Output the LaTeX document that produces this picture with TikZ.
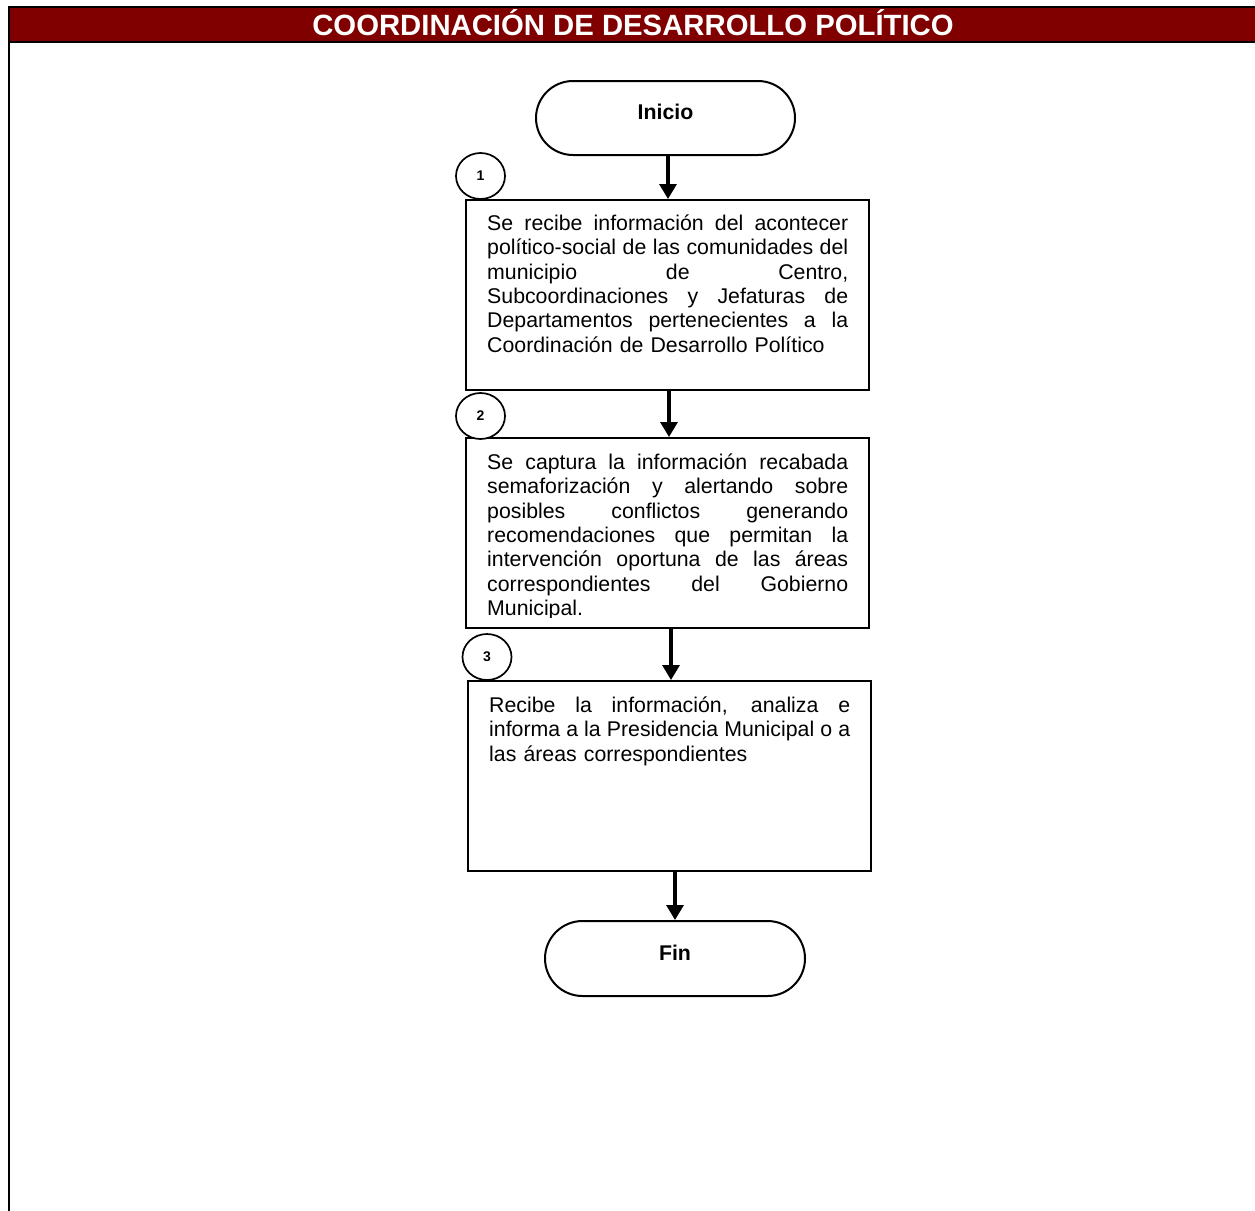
\documentclass[tikz,border=0pt]{standalone}
\usepackage{fontspec}
\setmainfont{Liberation Sans}
\usetikzlibrary{arrows.meta,shapes.geometric,shapes.misc}
\definecolor{banner}{RGB}{128,0,0}
% one justified line of a step text: the word spaces share the free width
\newcommand{\jline}[1]{\leavevmode\hbox to 361pt{\spaceskip=0.278em plus 1fil minus 0.1em\relax #1}}
\begin{document}
\begin{tikzpicture}[x=1pt,y=-1pt,
  stepbox/.style={draw,line width=2pt,minimum width=403pt,minimum height=190pt,inner sep=0pt},
  steptext/.style={anchor=north west,inner sep=0pt,text width=361pt,align=left,
    font=\fontsize{21.3}{24.4}\selectfont},
  terminal/.style={draw,line width=2pt,rounded rectangle,minimum width=259pt,
    minimum height=74pt,inner sep=0pt},
  termtext/.style={font=\fontsize{21.3}{24}\selectfont\bfseries,inner sep=0pt},
  stepnum/.style={draw,line width=1.7pt,ellipse,fill=white,minimum width=49pt,
    minimum height=46pt,inner sep=0pt,font=\fontsize{14}{15}\selectfont\bfseries},
  flow/.style={line width=3.3pt,-{Triangle[length=15pt,width=17pt]}}
]
\useasboundingbox (0,0) rectangle (1255,1210);
\fill[white] (0,0) rectangle (1255,1210);

% page frame and title banner
\draw[line width=2pt] (9,40) -- (9,1215);
\draw[line width=2pt,fill=banner] (9,7) rectangle (1260,41.7);
\node[text=white,font=\fontsize{29.3}{30}\selectfont\bfseries,inner sep=0pt]
  (title) at (633,22.5) {COORDINACIÓN DE DESARROLLO POLÍTICO};

% start and end
\node[terminal] (inicio) at (665.5,118) {};
\node[termtext] (iniciotxt) at ([yshift=6pt]inicio.center) {Inicio};
\node[terminal,minimum width=260pt,minimum height=75pt] (fin) at (675,958.5) {};
\node[termtext] (fintxt) at ([yshift=6pt]fin.center) {Fin};

% process steps
\node[stepbox] (box1) at (667.5,295) {};
\node[steptext] (txt1) at (487,208) {\rule{0pt}{22pt}%
  \jline{Se recibe información del acontecer}\\
  \jline{político-social de las comunidades del}\\
  \jline{municipio de Centro,}\\
  \jline{Subcoordinaciones y Jefaturas de}\\
  \jline{Departamentos pertenecientes a la}\\
  Coordinación de Desarrollo Político};

\node[stepbox] (box2) at (667.5,533) {};
\begin{scope}
  \clip (466,438) rectangle (869,617.5);
  \node[steptext] (txt2) at (487,447) {\rule{0pt}{22pt}%
    \jline{Se captura la información recabada}\\
    \jline{semaforización y alertando sobre}\\
    \jline{posibles conflictos generando}\\
    \jline{recomendaciones que permitan la}\\
    \jline{intervención oportuna de las áreas}\\
    \jline{correspondientes del Gobierno}\\
    Municipal.};
\end{scope}

\node[stepbox] (box3) at (669.5,776) {};
\node[steptext] (txt3) at (489,690) {\rule{0pt}{22pt}%
  \jline{Recibe la información, analiza e}\\
  \jline{informa a la Presidencia Municipal o a}\\
  las áreas correspondientes};

% step numbers
\node[stepnum] (n1) at (480.5,176) {1};
\node[stepnum] (n2) at (480.5,416) {2};
\node[stepnum] (n3) at (487,657) {3};

% connectors
\coordinate (x1) at (668,0);
\coordinate (x2) at (669,0);
\coordinate (x3) at (671,0);
\coordinate (x4) at (675,0);
\draw[flow] (inicio.south -| x1) -- (box1.north -| x1);
\draw[flow] (box1.south -| x2) -- (box2.north -| x2);
\draw[flow] (box2.south -| x3) -- (box3.north -| x3);
\draw[flow] (box3.south -| x4) -- (fin.north -| x4);
\end{tikzpicture}
\end{document}
